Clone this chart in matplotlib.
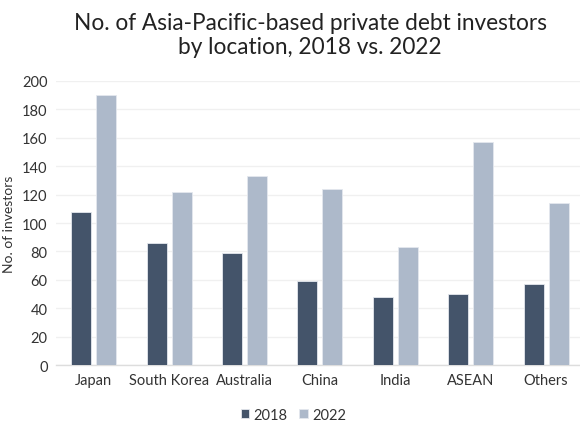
import matplotlib.pyplot as plt
import numpy as np

plt.rcParams['font.family'] = ['Lato', 'DejaVu Sans']

locations = ['Japan', 'South Korea', 'Australia', 'China', 'India', 'ASEAN', 'Others']
inv_2018 = [108, 86, 79, 59, 48, 50, 57]
inv_2022 = [190, 122, 133, 124, 83, 157, 114]

fig = plt.figure(figsize=(5.8, 4.35), dpi=100)
ax = fig.add_axes([0.0966, 0.1586, 0.91, 0.6529])

x = np.arange(len(locations))
w = 0.265
ax.bar(x - 0.166, inv_2018, w, color='#44546A', edgecolor='#E4E8EE', linewidth=0.6, label='2018', zorder=3)
ax.bar(x + 0.166, inv_2022, w, color='#ADB9CA', edgecolor='#E4E8EE', linewidth=0.6, label='2022', zorder=3)

ax.set_xlim(-0.5, 6.5)
ax.set_ylim(0, 200)
ax.set_yticks(range(0, 201, 20))
ax.set_xticks(x)
ax.set_xticklabels(locations)
ax.tick_params(axis='both', length=0, labelsize=10.5, colors='#333333', pad=6)
ax.grid(axis='y', color='#F0F0F0', linewidth=1, zorder=0)
for s in ['top', 'right', 'left']:
    ax.spines[s].set_visible(False)
ax.spines['bottom'].set_color('#DDDDDD')
ax.spines['bottom'].set_linewidth(1)
ax.set_ylabel('No. of investors', fontsize=10, color='#333333', labelpad=5)

fig.suptitle('No. of Asia-Pacific-based private debt investors\nby location, 2018 vs. 2022',
             x=0.535, y=0.97, fontsize=16.3, color='#222222', linespacing=1.2)

ax.legend(loc='upper center', bbox_to_anchor=(0.45, -0.105), ncol=2, frameon=False,
          fontsize=10.5, handlelength=0.6, handleheight=0.6, handletextpad=0.3, columnspacing=0.8,
          labelcolor='#333333')

fig.savefig('out.png', dpi=100)
